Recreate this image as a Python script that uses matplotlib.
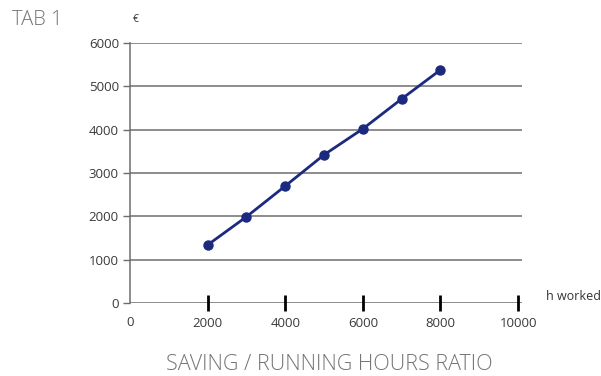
import matplotlib.pyplot as plt

hours = [2000, 3000, 4000, 5000, 6000, 7000, 8000]
saving = [1340, 1990, 2700, 3420, 4020, 4710, 5380]
y_ticks = [0, 1000, 2000, 3000, 4000, 5000, 6000]
x_ticks = [2000, 4000, 6000, 8000, 10000]

plt.rcParams['font.family'] = ['Open Sans', 'DejaVu Sans']

fig = plt.figure(figsize=(6.01, 3.76), dpi=100)
ax = fig.add_axes([130 / 601, 73 / 376, 392 / 601, 260 / 376])

grey = '#6d6d6d'
for v in y_ticks:
    ax.axhline(v, color=grey, linewidth=1.1, zorder=1)

ax.plot(hours, saving, color='#1b2a7f', linewidth=2, marker='o', markersize=6.5, zorder=3)

ax.set_xlim(0, 10100)
ax.set_ylim(0, 6000)

for s in ['top', 'right', 'bottom']:
    ax.spines[s].set_visible(False)
ax.spines['left'].set_color(grey)
ax.spines['left'].set_linewidth(1.1)

ax.set_yticks(y_ticks)
ax.tick_params(axis='y', length=5, width=1, color=grey, labelsize=9.5, labelcolor='#3a3a3a', pad=3)
ax.set_xticks(x_ticks)
ax.tick_params(axis='x', direction='inout', length=12, width=2, color='black',
               labelsize=9.5, labelcolor='#3a3a3a', pad=4)

# 0 label on x sits under the origin, without a tick mark
fig.text(130 / 601, 1 - 323 / 376, '0', ha='center', va='center',
         fontsize=9.5, color='#3a3a3a')

fig.text(12 / 601, 1 - 20 / 376, 'TAB 1', fontsize=14.5, color='#747474', va='center', ha='left',
         fontweight='light')
fig.text(133 / 601, 1 - 19 / 376, '€', fontsize=7.5, color='#333333', va='center', ha='left')
fig.text(546 / 601, 1 - 297 / 376, 'h worked', fontsize=9, color='#333333', va='center', ha='left')
fig.text(329 / 601, 1 - 365 / 376, 'SAVING / RUNNING HOURS RATIO', fontsize=15.5,
         color='#747474', va='center', ha='center', fontweight='light')

fig.savefig('out.png', dpi=100)
